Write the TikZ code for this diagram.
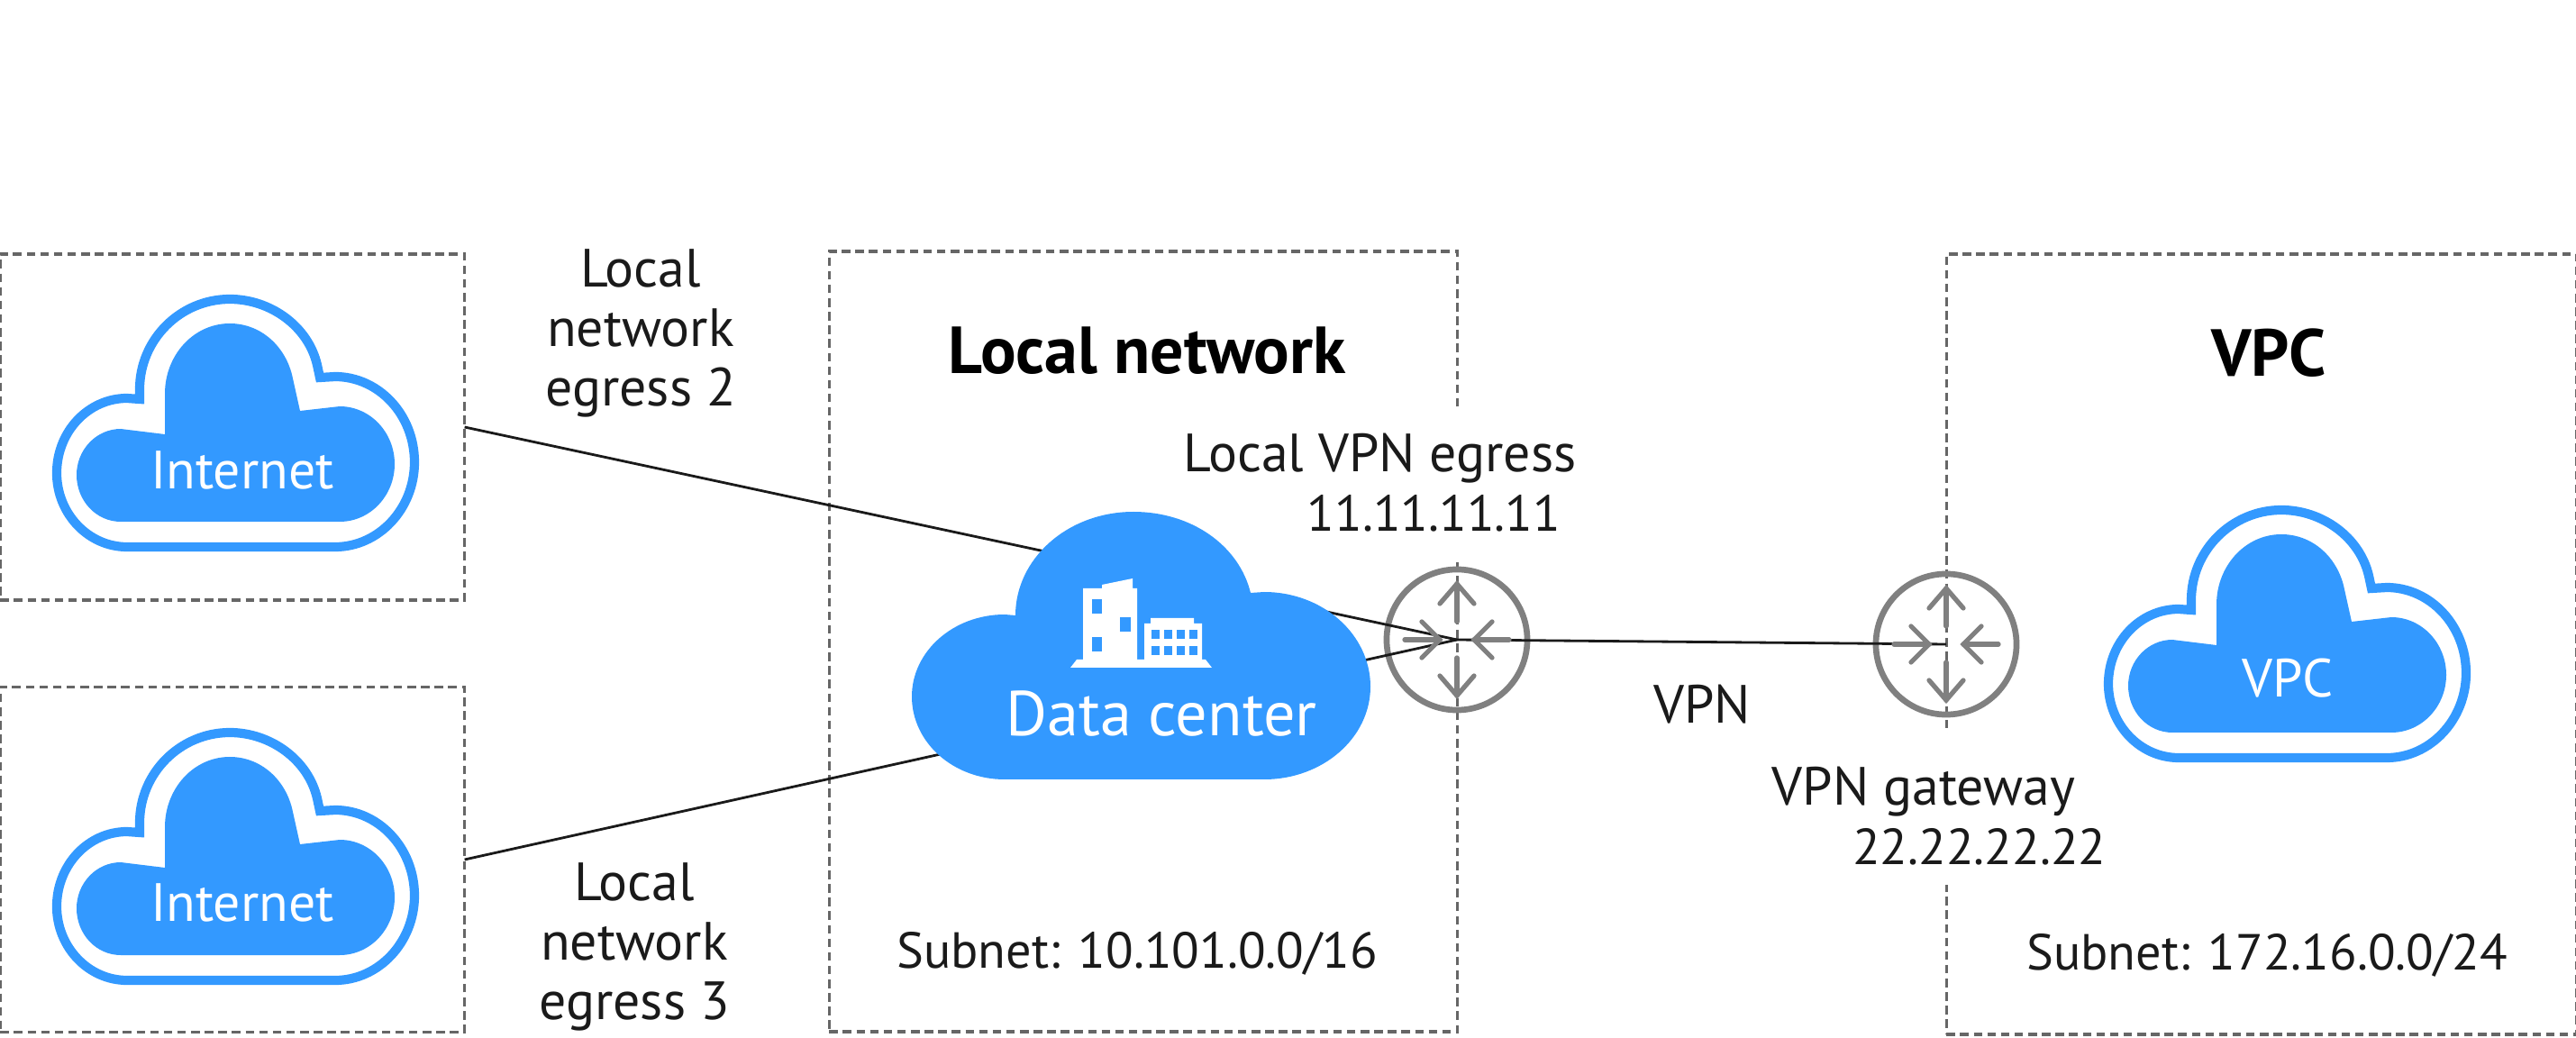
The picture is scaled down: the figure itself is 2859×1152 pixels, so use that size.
\documentclass[tikz,border=0pt]{standalone}
\usepackage{fontspec}
\setmainfont{PT Sans}
\usetikzlibrary{positioning}
\definecolor{cloudblue}{HTML}{3399FF}
\definecolor{routergray}{HTML}{808080}
\definecolor{boxgray}{HTML}{666666}
\definecolor{inkblack}{HTML}{1A1A1A}
\newcommand{\ipsize}{\fontsize{16}{18.5}\selectfont}
\tikzset{
  netbox/.style={draw=boxgray, line width=1pt, dash pattern=on 2.7pt off 1.6pt, inner sep=0pt, outer sep=0pt},
  router/.style={circle, draw=routergray, line width=1.9pt, minimum size=1.56cm, inner sep=0pt, outer sep=0pt},
  caption/.style={font=\fontsize{17}{18.8}\selectfont, text=inkblack, align=center, inner sep=1pt},
  ipnote/.style={caption, fill=white, align=left, inner sep=0pt},
  heading/.style={font=\fontsize{21}{24}\selectfont\bfseries, text=black, inner sep=0pt},
  cloudlabel/.style={font=\fontsize{17}{19}\selectfont, text=white, inner sep=0pt},
  link/.style={draw=inkblack, line width=0.8pt},
  arrowline/.style={draw=routergray, line width=1.5pt, line cap=round, line join=miter},
  pics/ringcloud/.style={code={
    \draw[cloudblue, line width=2.9pt, line join=miter]
      (155,443) -- (155,432) .. controls (155,377) and (200,332) .. (255,332)
      .. controls (300,332) and (342,362) .. (352,405) -- (355,419) -- (372,418)
      .. controls (420,418) and (460,460) .. (460,513)
      .. controls (460,565) and (420,607) .. (372,607) -- (141,607)
      .. controls (98,607) and (63,570) .. (63,525)
      .. controls (63,479) and (98,442) .. (141,442) -- cycle;
    \fill[cloudblue]
      (183,482) -- (183,437) .. controls (183,394) and (215,359) .. (255,359)
      .. controls (290,359) and (318,385) .. (325,420) -- (333,456) -- (377,451)
      .. controls (411,451) and (438,480) .. (438,515)
      .. controls (438,550) and (411,579) .. (377,579) -- (134,579)
      .. controls (107,579) and (85,556) .. (85,527)
      .. controls (85,499) and (107,476) .. (134,476) -- cycle;
  }},
  pics/routermarks/.style={code={
    \foreach \ang in {90,270} {
      \draw[arrowline, rotate=\ang] (20,0) -- (62,0);
      \draw[arrowline, rotate=\ang] (40,19) -- (62,0) -- (40,-19);
    }
    \foreach \ang in {0,180} {
      \draw[arrowline, rotate=\ang] (58,0) -- (19,0);
      \draw[arrowline, rotate=\ang] (39,20) -- (19,0) -- (39,-20);
    }
  }}
}

\begin{document}
\begin{tikzpicture}[x=0.01cm, y=-0.01cm]
  \useasboundingbox (0,0) rectangle (2859,1152);

  % dashed areas
  \node[netbox, minimum width=5.15cm, minimum height=3.84cm] (inetboxA) at (258,474) {};
  \node[netbox, minimum width=5.15cm, minimum height=3.83cm] (inetboxB) at (258,954) {};
  \node[netbox, minimum width=6.97cm, minimum height=8.66cm] (localbox) at (1269,712) {};
  \node[netbox, minimum width=6.99cm, minimum height=8.66cm] (vpcbox) at (2510,715) {};

  % these two blank out part of the dashed edges
  \node[ipnote, anchor=north west] (egressnote) at (1313,453)
    {\rule{0pt}{19.9pt}Local VPN egress\\\hspace*{39pt}{\ipsize 11.11.11.11}\rule[-9.7pt]{0pt}{9.7pt}};
  \node[ipnote, anchor=north west] (gatewaynote) at (1966,813)
    {\rule{0pt}{22.8pt}VPN gateway\\\hspace*{25.4pt}{\ipsize 22.22.22.22}\rule[-6.3pt]{0pt}{6.3pt}};

  \node[router] (routerA) at (1617,710) {};
  \node[router] (routerB) at (2160,715) {};

  % links run under the clouds
  \draw[link] (inetboxA.east) -- (routerA.center);
  \draw[link] (inetboxB.east) -- (routerA.center);
  \draw[link] (routerA.center) -- (routerB.center);

  \pic at (routerA.center) {routermarks};
  \pic at (routerB.center) {routermarks};

  \pic at (0,0) {ringcloud};
  \pic at (0,481) {ringcloud};
  \pic at (2277,234) {ringcloud};
  \node[cloudlabel] (inettextA) at (269,522) {Internet};
  \node[cloudlabel] (inettextB) at (269,1002) {Internet};
  \node[cloudlabel] (vpctext) at (2539,753) {VPC};

  % data center cloud
  \fill[cloudblue] (1127,683) .. controls (1127,620) and (1185,568) .. (1258,568)
    .. controls (1322,568) and (1375,605) .. (1388,658) -- (1403,657)
    .. controls (1468,657) and (1521,704) .. (1521,762)
    .. controls (1521,819) and (1468,865) .. (1403,865) -- (1115,865)
    .. controls (1058,865) and (1012,824) .. (1012,773)
    .. controls (1012,723) and (1058,682) .. (1115,682) -- cycle;
  \node[cloudlabel, font=\fontsize{20}{22}\selectfont] (dctext) at (1289,792) {Data center};

  % building icon
  \fill[white] (1188,741) -- (1345,741) -- (1338,732) -- (1195,732) -- cycle;
  \fill[white] (1202,732) -- (1202,653) -- (1223,653) -- (1223,649) -- (1257,642) -- (1257,653) -- (1262,653) -- (1262,732) -- cycle;
  \fill[white] (1270,732) -- (1270,692) -- (1277,692) -- (1277,686) -- (1325,686) -- (1325,692) -- (1334,692) -- (1334,732) -- cycle;
  \fill[cloudblue] (1212,665) rectangle (1223,681);
  \fill[cloudblue] (1243,685) rectangle (1255,701);
  \fill[cloudblue] (1212,707) rectangle (1223,723);
  \foreach \col in {1278,1292,1306,1320} {
    \fill[cloudblue] (\col,699) rectangle +(8.5,10);
    \fill[cloudblue] (\col,717) rectangle +(8.5,10);
  }

  % labels
  \node[caption] (egressB) at (711,370) {Local\\network\\egress 2};
  \node[caption] (egressC) at (704,1051) {Local\\network\\egress 3};
  \node[heading] (localtitle) at (1273,389) {Local network};
  \node[heading] (vpctitle) at (2518,392) {VPC};
  \node[caption] (vpnname) at (1889,782) {VPN};
  \node[caption, font=\ipsize] (localsubnet) at (1262,1058) {Subnet: 10.101.0.0/16};
  \node[caption, font=\ipsize] (vpcsubnet) at (2516,1060) {Subnet: 172.16.0.0/24};
\end{tikzpicture}
\end{document}
